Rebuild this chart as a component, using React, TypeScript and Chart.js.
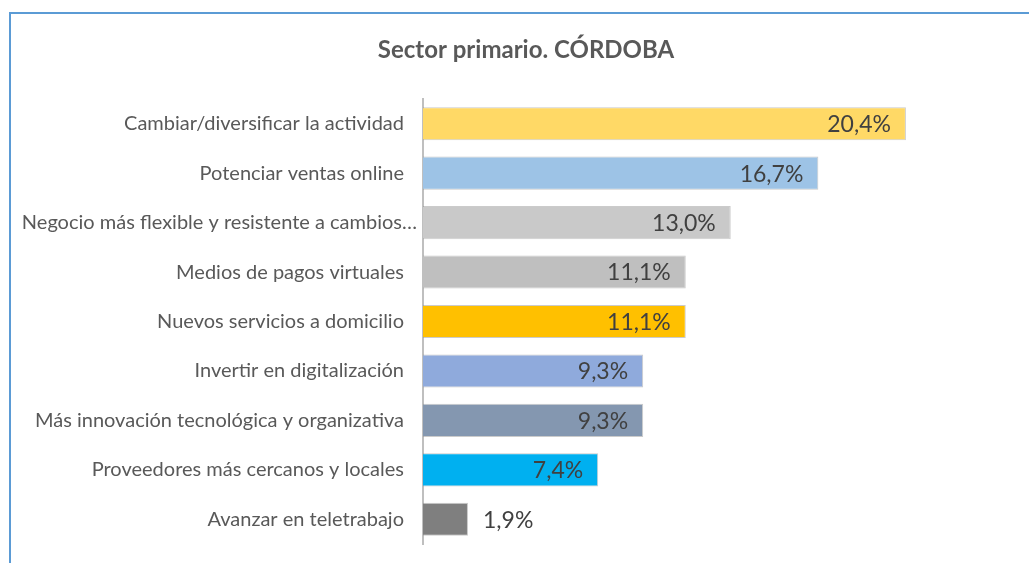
import React, { useEffect, useRef } from "react";
import { Chart, registerables } from "chart.js";

Chart.register(...registerables);

const TITLE = "Sector primario. CÓRDOBA";
const categories = [
  "Cambiar/diversificar la actividad",
  "Potenciar ventas online",
  "Negocio más flexible y resistente a cambios…",
  "Medios de pagos virtuales",
  "Nuevos servicios a domicilio",
  "Invertir en digitalización",
  "Más innovación tecnológica y organizativa",
  "Proveedores más cercanos y locales",
  "Avanzar en teletrabajo",
];
const values = [20.4, 16.7, 13.0, 11.1, 11.1, 9.3, 9.3, 7.4, 1.9];
const barColors = [
  "#FFD966",
  "#9DC3E6",
  "#C9C9C9",
  "#BFBFBF",
  "#FFC000",
  "#8FAADC",
  "#8497B0",
  "#00B0F0",
  "#7F7F7F",
];

const FONT = "Lato, 'Open Sans', sans-serif";

const valueLabelPlugin = {
  id: "valueLabels",
  afterDatasetsDraw(chart: any) {
    const ctx = chart.ctx;
    const meta = chart.getDatasetMeta(0);
    ctx.save();
    ctx.font = `23px ${FONT}`;
    ctx.fillStyle = "#404040";
    ctx.textBaseline = "middle";
    meta.data.forEach((bar: any, i: number) => {
      const v = values[i];
      const text = v.toFixed(1).replace(".", ",") + "%";
      if (v > 5) {
        ctx.textAlign = "right";
        ctx.fillText(text, bar.x - 15, bar.y + 1);
      } else {
        ctx.textAlign = "left";
        ctx.fillText(text, bar.x + 15, bar.y + 1);
      }
    });
    ctx.restore();
  },
};

const categoryLabelPlugin = {
  id: "categoryLabels",
  afterDraw(chart: any) {
    const ctx = chart.ctx;
    const yScale = chart.scales.y;
    const left = chart.chartArea.left;
    ctx.save();
    ctx.font = `20px ${FONT}`;
    ctx.fillStyle = "#595959";
    ctx.textBaseline = "middle";
    ctx.textAlign = "right";
    categories.forEach((label, i) => {
      const y = yScale.getPixelForValue(i);
      const gap = label.endsWith("…") ? 6 : 19;
      ctx.fillText(label, left - gap, y);
    });
    ctx.restore();
  },
};

export default function App() {
  const ref = useRef<HTMLCanvasElement>(null);
  useEffect(() => {
    if (!ref.current) return;
    const chart = new Chart(ref.current, {
      type: "bar",
      data: {
        labels: categories,
        datasets: [
          {
            data: values,
            backgroundColor: barColors,
            borderColor: "rgba(140,140,140,0.45)",
            borderWidth: 1,
            borderSkipped: "left",
            categoryPercentage: 1,
            barPercentage: 0.67,
          },
        ],
      },
      options: {
        indexAxis: "y",
        responsive: false,
        animation: false,
        layout: { padding: { top: 0, left: 23, right: 0, bottom: 19 } },
        plugins: {
          legend: { display: false },
          tooltip: { enabled: false },
          title: {
            display: true,
            text: TITLE,
            color: "#595959",
            font: { family: FONT, size: 24, weight: "bold" },
            padding: { top: 35.6, bottom: 34.6 },
          },
        },
        scales: {
          x: { display: false, min: 0, max: 25.6 },
          y: {
            afterFit: (scale: any) => {
              scale.width = 400;
            },
            grid: { display: false, drawTicks: false },
            border: { display: true, color: "#BFBFBF", width: 2 },
            ticks: { display: false },
          },
        },
      },
      plugins: [valueLabelPlugin, categoryLabelPlugin],
    });
    return () => chart.destroy();
  }, []);

  return (
    <div
      style={{
        position: "fixed",
        left: 0,
        top: 0,
        width: 1029,
        height: 563,
        overflow: "hidden",
        background: "#fff",
      }}
    >
      <div
        style={{
          position: "absolute",
          left: 9,
          top: 12,
          width: 1100,
          height: 700,
          borderTop: "2px solid #5B9BD5",
          borderLeft: "2px solid #5B9BD5",
        }}
      />
      <canvas
        ref={ref}
        width={1029}
        height={563}
        style={{ position: "absolute", left: 0, top: 0 }}
      />
    </div>
  );
}
